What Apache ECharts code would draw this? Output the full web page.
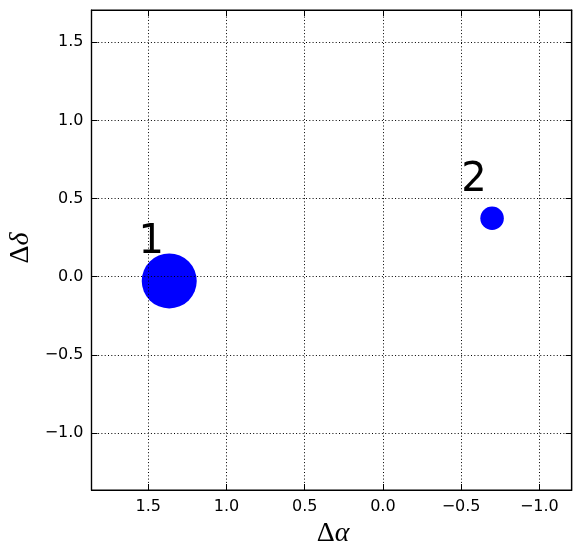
<!DOCTYPE html>
<html>
<head>
<meta charset="utf-8">
<script src="https://cdn.jsdelivr.net/npm/echarts@6/dist/echarts.min.js"></script>
<style>html,body{margin:0;padding:0;background:#fff;}#c{width:580px;height:558px;}</style>
</head>
<body>
<div id="c"></div>
<script>
// data
const names = ['1', '2'];
const dAlpha = [1.366, -0.698];
const dDelta = [-0.027, 0.374];
const bubbleSize = [55, 23.5];
const xRange = [-1.207, 1.863];
const yRange = [-1.364, 1.706];

const chart = echarts.init(document.getElementById('c'), null, {renderer: 'canvas'});

function fmt(v) {
  const r = Math.round(v * 2) / 2;
  if (Math.abs(v - r) > 1e-6) return '';
  return r.toFixed(1).replace('-', '\u2212');
}

const gridLine = {show: true, lineStyle: {color: '#000', width: 1, type: [1, 2.3]}};
const tickIn = {show: true, inside: true, length: 6, lineStyle: {color: '#000', width: 1}};
const labelFont = {fontFamily: 'DejaVu Sans', fontSize: 16, color: '#000'};

const data = names.map((n, i) => ({name: n, value: [dAlpha[i], dDelta[i], bubbleSize[i]]}));

chart.setOption({
  animation: false,
  grid: {left: 91.5, right: 8.3, top: 10, bottom: 68, show: true, borderColor: '#000', borderWidth: 1.2, backgroundColor: 'transparent', containLabel: false},
  xAxis: [
    {type: 'value', inverse: true, min: xRange[0], max: xRange[1], splitNumber: 6, z: 10,
     axisLine: {show: true, onZero: false, lineStyle: {color: '#000', width: 1.2}},
     axisTick: tickIn, splitLine: gridLine,
     axisLabel: Object.assign({formatter: fmt, margin: 9, showMinLabel: true, showMaxLabel: true}, labelFont)},
    {type: 'value', inverse: true, position: 'top', min: xRange[0], max: xRange[1], splitNumber: 6, z: 10,
     axisLine: {show: true, onZero: false, lineStyle: {color: '#000', width: 1.2}},
     axisTick: tickIn, splitLine: {show: false}, axisLabel: {show: false}}
  ],
  yAxis: [
    {type: 'value', min: yRange[0], max: yRange[1], splitNumber: 6, z: 10,
     axisLine: {show: true, onZero: false, lineStyle: {color: '#000', width: 1.2}},
     axisTick: tickIn, splitLine: gridLine,
     axisLabel: Object.assign({formatter: fmt, margin: 8}, labelFont)},
    {type: 'value', position: 'right', min: yRange[0], max: yRange[1], splitNumber: 6, z: 10,
     axisLine: {show: true, onZero: false, lineStyle: {color: '#000', width: 1.2}},
     axisTick: tickIn, splitLine: {show: false}, axisLabel: {show: false}}
  ],
  series: [{
    type: 'scatter',
    xAxisIndex: 0, yAxisIndex: 0,
    data: data,
    symbol: 'circle',
    symbolSize: function (v) { return v[2]; },
    itemStyle: {color: '#0000ff', opacity: 1},
    label: {show: true, formatter: '{b}', position: 'inside', offset: [-18, -38],
            fontFamily: 'DejaVu Sans', fontSize: 40, color: '#000'},
    emphasis: {disabled: true}
  }],
  graphic: [
    {type: 'text', x: 333, y: 534, style: {text: '{d|\u0394}{a|\u03b1}', align: 'center', verticalAlign: 'middle',
      rich: {d: {fontFamily: 'Liberation Serif', fontSize: 28, fill: '#000'}, a: {fontFamily: 'Liberation Serif', fontStyle: 'italic', fontSize: 28, fill: '#000'}}}},
    {type: 'text', x: 21, y: 248, rotation: Math.PI / 2, style: {text: '{d|\u0394}{a|\u03b4}', align: 'center', verticalAlign: 'middle',
      rich: {d: {fontFamily: 'Liberation Serif', fontSize: 28, fill: '#000'}, a: {fontFamily: 'Liberation Serif', fontStyle: 'italic', fontSize: 28, fill: '#000'}}}}
  ]
});
</script>
</body>
</html>
